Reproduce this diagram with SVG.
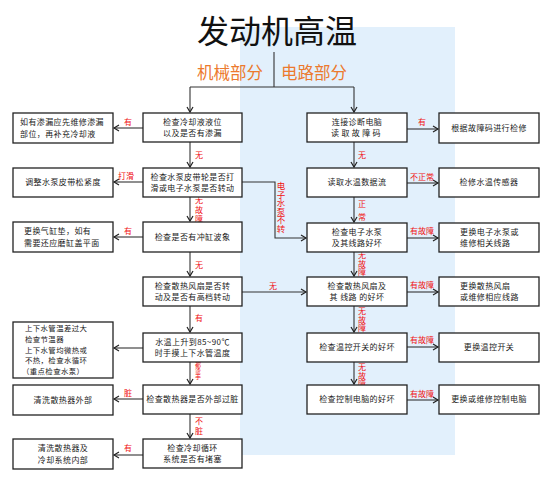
<svg xmlns="http://www.w3.org/2000/svg" width="554" height="485" viewBox="0 0 554 485">
<defs>
<marker id="arr" markerWidth="8" markerHeight="8" refX="6" refY="4" orient="auto" markerUnits="userSpaceOnUse">
<path d="M1,1 L6,4 L1,7" fill="none" stroke="#222" stroke-width="1.2"/>
</marker>
<style>
.box{fill:#fff;stroke:#222;stroke-width:1.3}
.t{font-family:"Noto Sans CJK SC","Noto Sans",sans-serif;font-size:8px;letter-spacing:0.4px;fill:#1a1a1a;text-anchor:middle}
.tl{font-family:"Noto Sans CJK SC","Noto Sans",sans-serif;font-size:8px;letter-spacing:0.4px;fill:#1a1a1a}
.lab{font-family:"Noto Sans CJK SC","Noto Sans",sans-serif;font-size:8px;fill:#f01010;text-anchor:middle}
.vl{font-family:"Noto Sans CJK SC","Noto Sans",sans-serif;font-size:8px;fill:#f01010;writing-mode:vertical-rl;text-anchor:start}
.ln{fill:none;stroke:#333;stroke-width:1.1}
.cat{font-family:"Noto Sans CJK SC","Noto Sans",sans-serif;font-size:16.5px;fill:#ec7a2e}
</style>
</defs>
<rect width="554" height="485" fill="#fff"/>
<g id="watermark">
<rect x="240" y="27" width="215" height="428" fill="#e2f0fc"/>
</g>
<g id="title">
<text x="277" y="43" font-family="'Noto Sans CJK SC','Noto Sans',sans-serif" font-size="32" fill="#111" text-anchor="middle">发动机高温</text>
<text class="cat" x="263" y="79" text-anchor="end">机械部分</text>
<text class="cat" x="281" y="79">电路部分</text>
</g>
<g id="connectors">
<path class="ln" d="M274,52 V87"/>
<path class="ln" d="M190,87 H354"/>
<path class="ln" d="M190,87 V112" marker-end="url(#arr)"/>
<path class="ln" d="M354,87 V112" marker-end="url(#arr)"/>
<path class="ln" d="M190,142 V167" marker-end="url(#arr)"/>
<path class="ln" d="M190,197 V221" marker-end="url(#arr)"/>
<path class="ln" d="M190,252 V276" marker-end="url(#arr)"/>
<path class="ln" d="M190,306 V332" marker-end="url(#arr)"/>
<path class="ln" d="M190,362 V384" marker-end="url(#arr)"/>
<path class="ln" d="M190,414 V438" marker-end="url(#arr)"/>
<path class="ln" d="M143,128 H114" marker-end="url(#arr)"/>
<path class="ln" d="M143,182 H114" marker-end="url(#arr)"/>
<path class="ln" d="M143,237 H114" marker-end="url(#arr)"/>
<path class="ln" d="M143,348 H114" marker-end="url(#arr)"/>
<path class="ln" d="M143,399 H114" marker-end="url(#arr)"/>
<path class="ln" d="M143,455 H114" marker-end="url(#arr)"/>
<path class="ln" d="M242,182 H275 V238 H306" marker-end="url(#arr)"/>
<path class="ln" d="M242,292 H306" marker-end="url(#arr)"/>
<path class="ln" d="M354,142 V167" marker-end="url(#arr)"/>
<path class="ln" d="M354,197 V222" marker-end="url(#arr)"/>
<path class="ln" d="M354,252 V276" marker-end="url(#arr)"/>
<path class="ln" d="M354,306 V332" marker-end="url(#arr)"/>
<path class="ln" d="M354,362 V384" marker-end="url(#arr)"/>
<path class="ln" d="M407,129 H438" marker-end="url(#arr)"/>
<path class="ln" d="M407,183 H438" marker-end="url(#arr)"/>
<path class="ln" d="M407,238 H438" marker-end="url(#arr)"/>
<path class="ln" d="M407,292 H438" marker-end="url(#arr)"/>
<path class="ln" d="M407,347 H438" marker-end="url(#arr)"/>
<path class="ln" d="M407,400 H438" marker-end="url(#arr)"/>
<text class="lab" x="128" y="125">有</text>
<text class="lab" x="126" y="179">打滑</text>
<text class="lab" x="128" y="234">有</text>
<text class="lab" x="128" y="396">脏</text>
<text class="lab" x="128" y="451">有</text>
<text class="lab" x="199" y="158">无</text>
<text class="vl" x="199" y="196" letter-spacing="1.5">无故障</text>
<text class="lab" x="199" y="268">无</text>
<text class="lab" x="199" y="321">有</text>
<text class="vl" x="198" y="362" style="font-size:6px">都烫手</text>
<text class="vl" x="199" y="417" letter-spacing="2">不脏</text>
<text class="lab" x="273" y="289">无</text>
<text class="vl" x="281" y="182" style="font-size:8.5px">电子水泵不转</text>
<text class="lab" x="422" y="125">有</text>
<text class="lab" x="422" y="180">不正常</text>
<text class="lab" x="422" y="234">有故障</text>
<text class="lab" x="422" y="288">有故障</text>
<text class="lab" x="422" y="343">有故障</text>
<text class="lab" x="422" y="397">有故障</text>
<text class="lab" x="362" y="158">无</text>
<text class="vl" x="362" y="200" letter-spacing="5">正常</text>
<text class="vl" x="362" y="251" letter-spacing="0.5">无故障</text>
<text class="vl" x="362" y="307" letter-spacing="0.5">无故障</text>
<text class="vl" x="362" y="363" letter-spacing="0.5">无故障</text>
</g>
<g id="L1"><rect class="box" x="143" y="113" width="99" height="29"/><text class="t"><tspan x="192.5" y="124.5">检查冷却液液位</tspan><tspan x="192.5" y="136.1">以及是否有渗漏</tspan></text></g>
<g id="L2"><rect class="box" x="143" y="168" width="99" height="29"/><text class="t"><tspan x="192.5" y="179.5">检查水泵皮带轮是否打</tspan><tspan x="192.5" y="191.1">滑或电子水泵是否转动</tspan></text></g>
<g id="L3"><rect class="box" x="143" y="222" width="99" height="30"/><text class="t" x="192.5" y="240">检查是否有冲缸波象</text></g>
<g id="L4"><rect class="box" x="143" y="277" width="99" height="29"/><text class="t"><tspan x="192.5" y="288.5">检查散热风扇是否转</tspan><tspan x="192.5" y="300.1">动及是否有高档转动</tspan></text></g>
<g id="L5"><rect class="box" x="143" y="333" width="99" height="29"/><text class="t"><tspan x="192.5" y="344.5">水温上升到85~90℃</tspan><tspan x="192.5" y="356.1">时手摸上下水管温度</tspan></text></g>
<g id="L6"><rect class="box" x="143" y="385" width="99" height="29"/><text class="t" x="192.5" y="402.3">检查散热器是否外部过脏</text></g>
<g id="L7"><rect class="box" x="143" y="439" width="99" height="29"/><text class="t"><tspan x="192.5" y="450.5">检查冷却循环</tspan><tspan x="192.5" y="462.1">系统是否有堵塞</tspan></text></g>
<g id="A1"><rect class="box" x="13" y="113" width="100" height="30"/><text class="tl"><tspan x="20" y="125">如有渗漏应先维修渗漏</tspan><tspan x="20" y="136.6">部位，再补充冷却液</tspan></text></g>
<g id="A2"><rect class="box" x="13" y="168" width="100" height="29"/><text class="t" x="63" y="185.3">调整水泵皮带松紧度</text></g>
<g id="A3"><rect class="box" x="13" y="222" width="100" height="30"/><text class="tl"><tspan x="24" y="234">更换气缸垫，如有</tspan><tspan x="24" y="245.6">需要还应磨缸盖平面</tspan></text></g>
<g id="A5"><rect class="box" x="13" y="322" width="100" height="56"/><text class="tl" style="font-size:7.4px"><tspan x="25" y="331">上下水管温差过大</tspan><tspan x="25" y="341.8">检查节温器</tspan><tspan x="25" y="352.6">上下水管均微热或</tspan><tspan x="25" y="363.4">不热，检查水循环</tspan><tspan x="22" y="374.2">（重点检查水泵）</tspan></text></g>
<g id="A6"><rect class="box" x="13" y="385" width="100" height="30"/><text class="t" x="63" y="402.8">清洗散热器外部</text></g>
<g id="A7"><rect class="box" x="13" y="439" width="100" height="30"/><text class="t"><tspan x="63" y="451">清洗散热器及</tspan><tspan x="63" y="462.6">冷却系统内部</tspan></text></g>
<g id="R1"><rect class="box" x="307" y="113" width="100" height="29"/><text class="t"><tspan x="357" y="124.5">连接诊断电脑</tspan><tspan x="357" y="136.1" letter-spacing="2.4">读取故障码</tspan></text></g>
<g id="R2"><rect class="box" x="307" y="168" width="100" height="29"/><text class="t" x="357" y="185.3">读取水温数据流</text></g>
<g id="R3"><rect class="box" x="307" y="223" width="100" height="29"/><text class="t"><tspan x="357" y="234.5">检查电子水泵</tspan><tspan x="357" y="246.1">及其线路好坏</tspan></text></g>
<g id="R4"><rect class="box" x="307" y="277" width="100" height="29"/><text class="t"><tspan x="357" y="288.5">检查散热风扇及</tspan><tspan x="357" y="300.1">其 线路 的好坏</tspan></text></g>
<g id="R5"><rect class="box" x="307" y="333" width="100" height="29"/><text class="t" x="357" y="350.3">检查温控开关的好坏</text></g>
<g id="R6"><rect class="box" x="307" y="385" width="100" height="29"/><text class="t" x="357" y="402.3">检查控制电脑的好坏</text></g>
<g id="B1"><rect class="box" x="439" y="113" width="100" height="30"/><text class="t" x="489" y="130.8">根据故障码进行检修</text></g>
<g id="B2"><rect class="box" x="439" y="168" width="100" height="29"/><text class="t" x="489" y="185.3">检修水温传感器</text></g>
<g id="B3"><rect class="box" x="439" y="223" width="100" height="29"/><text class="tl"><tspan x="460" y="234.5">更换电子水泵或</tspan><tspan x="460" y="246.1">维修相关线路</tspan></text></g>
<g id="B4"><rect class="box" x="439" y="277" width="100" height="29"/><text class="tl"><tspan x="460" y="288.5">更换散热风扇</tspan><tspan x="460" y="300.1">或维修相应线路</tspan></text></g>
<g id="B5"><rect class="box" x="439" y="333" width="100" height="29"/><text class="t" x="489" y="350.3">更换温控开关</text></g>
<g id="B6"><rect class="box" x="439" y="385" width="100" height="29"/><text class="t" x="489" y="402.3">更换或维修控制电脑</text></g>
</svg>
